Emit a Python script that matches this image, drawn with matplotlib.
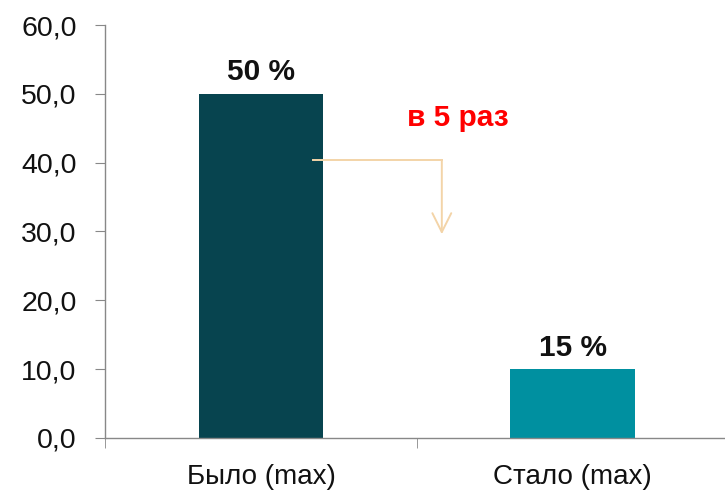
import matplotlib.pyplot as plt
import matplotlib.ticker as mticker

plt.rcParams['font.family'] = ['Liberation Sans', 'DejaVu Sans']

# data
categories = ['Было (max)', 'Стало (max)']
values = [50.0, 10.0]
bar_labels = ['50 %', '15 %']
bar_colors = ['#07444F', '#0090A0']
y_ticks = [0, 10, 20, 30, 40, 50, 60]

fig = plt.figure(figsize=(7.25, 4.92), dpi=100)
ax = fig.add_axes([0.145, 0.11, 0.86, 0.839])

x = list(range(len(categories)))
ax.bar(x, values, width=0.4, color=bar_colors, zorder=2)

for xi, v, lab in zip(x, values, bar_labels):
    ax.text(xi, v + 1.95, lab, ha='center', va='baseline',
            fontsize=21.5, fontweight='bold', color='#111111')

ax.set_xlim(-0.5, 1.5)
ax.set_ylim(0, 60)
ax.set_yticks(y_ticks)
ax.yaxis.set_major_formatter(mticker.FuncFormatter(lambda v, p: f'{v:.1f}'.replace('.', ',')))
ax.set_xticks(x)
ax.set_xticklabels(categories)
ax.set_xticks([-0.5, 0.5, 1.5], minor=True)
ax.tick_params(axis='x', which='major', length=0, pad=19, labelsize=20, labelcolor='#111111')
ax.tick_params(axis='x', which='minor', length=7, color='#888888')
ax.tick_params(axis='y', length=7.5, color='#888888', labelsize=20.5, pad=13, labelcolor='#111111')

for s in ['top', 'right']:
    ax.spines[s].set_visible(False)
for s in ['left', 'bottom']:
    ax.spines[s].set_color('#888888')
    ax.spines[s].set_linewidth(1.0)

# elbow arrow
arrow_color = '#F3D4A8'
ax.plot([0.167, 0.58], [40.4, 40.4], color=arrow_color, lw=1.4, zorder=3)
ax.annotate('', xy=(0.58, 29.6), xytext=(0.58, 40.4),
            arrowprops=dict(arrowstyle='->', color=arrow_color, lw=1.4,
                            mutation_scale=34, shrinkA=0, shrinkB=0))

ax.text(0.631, 45.3, 'в 5 раз', ha='center', va='baseline',
        fontsize=21.5, fontweight='bold', color='#FF0000')

fig.savefig('out.png', dpi=100)
